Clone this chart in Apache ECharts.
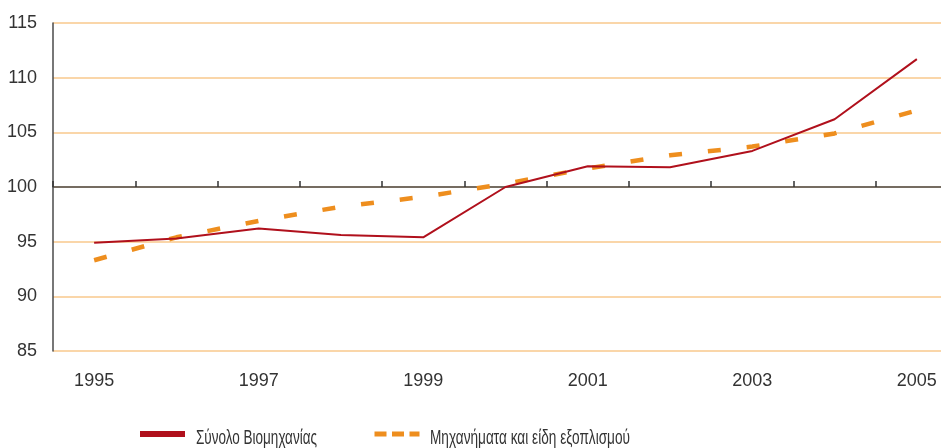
<!DOCTYPE html>
<html><head><meta charset="utf-8">
<script src="https://cdn.jsdelivr.net/npm/echarts@6/dist/echarts.min.js"></script>
<style>html,body{margin:0;padding:0;background:#fff}#c{width:941px;height:448px}</style>
</head><body><div id="c"></div>
<script>
var years = ['1995','1996','1997','1998','1999','2000','2001','2002','2003','2004','2005'];
var totalIndustry = [94.9, 95.3, 96.2, 95.6, 95.4, 100.0, 101.9, 101.8, 103.3, 106.2, 111.7];
var machinery = [93.3, 95.4, 96.9, 98.2, 99.1, 100.3, 101.7, 102.9, 103.7, 104.9, 107.0];
var seriesNames = ['Σύνολο Βιομηχανίας', 'Μηχανήματα και είδη εξοπλισμού'];
var yMin = 85, yMax = 115, yStep = 5, baseLine = 100;

var chart = echarts.init(document.getElementById('c'), null, {renderer:'canvas'});
var gridTop = 23, gridBottom = 97, gridH = 448 - gridTop - gridBottom;
var baseOffset = -gridH * (baseLine - yMin) / (yMax - yMin);
var axisFont = 'Liberation Sans, Arial, sans-serif';
var red = '#B0101C', orange = '#EE8E1E';

// legend label text, condensed horizontally to match the original narrow typeface
var mctx = document.createElement('canvas').getContext('2d');
var legFontSize = 21;
mctx.font = legFontSize + 'px "Liberation Sans"';
function squeeze(text, target) { return target / mctx.measureText(text).width; }
var legendTextTargets = [121, 200];

chart.setOption({
  animation: false,
  grid: {left: 53, top: gridTop, bottom: gridBottom, width: 905, containLabel: false, outerBoundsMode: 'none'},
  xAxis: [{
    type: 'category', data: years, boundaryGap: true, position: 'bottom',
    axisLine: {show: false}, axisTick: {show: false},
    axisLabel: {interval: 1, margin: 21, color: '#333', fontSize: 18, fontFamily: axisFont},
    splitLine: {show: false}
  }, {
    type: 'category', data: years, boundaryGap: true, position: 'bottom', offset: baseOffset,
    axisLine: {show: true, lineStyle: {color: '#4a4a4a', width: 1.5}},
    axisTick: {show: true, inside: true, length: 6, interval: 0, lineStyle: {color: '#333', width: 1.5}},
    axisLabel: {show: false}, splitLine: {show: false}
  }],
  yAxis: {
    type: 'value', min: yMin, max: yMax, interval: yStep,
    axisLine: {show: true, lineStyle: {color: '#4a4a4a', width: 1.5}},
    axisTick: {show: false},
    axisLabel: {margin: 16, color: '#333', fontSize: 18, fontFamily: axisFont},
    splitLine: {show: true, lineStyle: {color: '#F9C98C', width: 1.5}}
  },
  legend: [{
    left: 140, top: 431, itemWidth: 45, itemHeight: 6, padding: 0,
    formatter: function(){ return ''; }, textStyle: {fontSize: 1},
    data: [{name: seriesNames[0], icon: 'rect', itemStyle: {color: red}}]
  }, {
    left: 372, top: 429, itemWidth: 45, itemHeight: 10, padding: 0,
    formatter: function(){ return ''; }, textStyle: {fontSize: 1},
    data: [{name: seriesNames[1], lineStyle: {width: 5, type: [12, 5.5], color: orange}, itemStyle: {opacity: 0}}]
  }],
  graphic: [{
    type: 'text', x: 196, y: 438, scaleX: squeeze(seriesNames[0], legendTextTargets[0]),
    style: {text: seriesNames[0], font: legFontSize + 'px "Liberation Sans"', fill: '#333', verticalAlign: 'middle'}
  }, {
    type: 'text', x: 430, y: 438, scaleX: squeeze(seriesNames[1], legendTextTargets[1]),
    style: {text: seriesNames[1], font: legFontSize + 'px "Liberation Sans"', fill: '#333', verticalAlign: 'middle'}
  }],
  series: [{
    name: seriesNames[0], type: 'line', data: totalIndustry, xAxisIndex: 0,
    symbol: 'none', lineStyle: {color: red, width: 2}, itemStyle: {color: red}, z: 3
  }, {
    name: seriesNames[1], type: 'line', data: machinery, xAxisIndex: 0,
    symbol: 'none', lineStyle: {color: orange, width: 4.5, type: [13, 26]}, itemStyle: {color: orange}, z: 2
  }]
});
</script></body></html>
